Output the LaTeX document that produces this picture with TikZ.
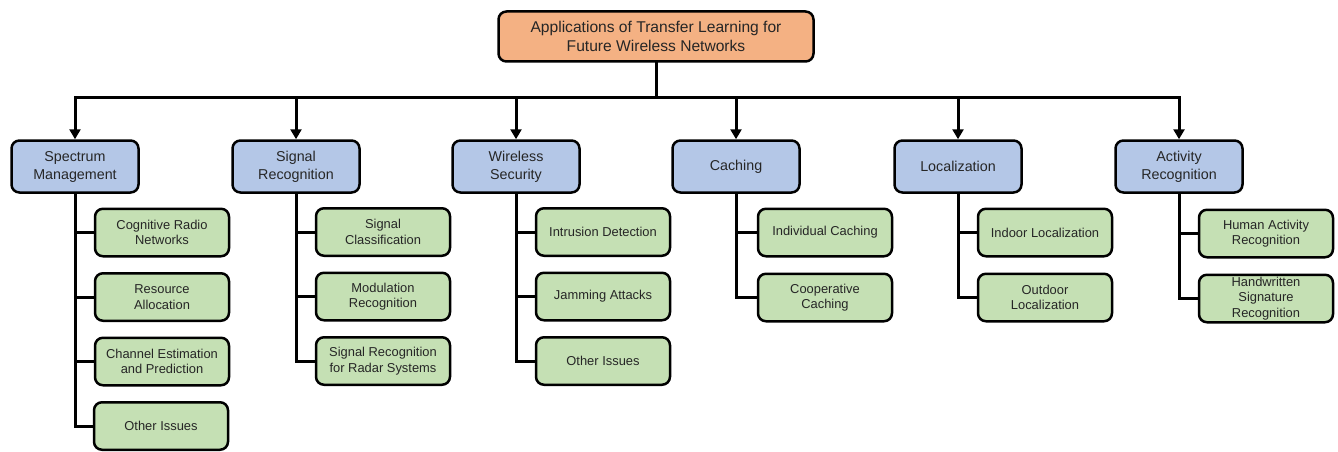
\documentclass[tikz,border=0pt]{standalone}
\usepackage{fontspec}
\setmainfont{Liberation Sans}
\usetikzlibrary{arrows.meta, positioning}

\definecolor{rootfill}{HTML}{F4B183}
\definecolor{catfill}{HTML}{B4C7E7}
\definecolor{subfill}{HTML}{C5E0B4}

\begin{document}
\begin{tikzpicture}[
  x=1pt, y=-1pt,
  rootbox/.style={draw=black, fill=rootfill, line width=2.5pt, rounded corners=8pt,
    minimum width=315pt, minimum height=50pt, align=center, inner sep=0pt,
    font=\fontsize{15.6}{19.5}\selectfont, text=black!85},
  catbox/.style={draw=black, fill=catfill, line width=2.5pt, rounded corners=8pt,
    minimum width=127pt, minimum height=52pt, align=center, inner sep=0pt,
    font=\fontsize{14.3}{18}\selectfont, text=black!85},
  subbox/.style={draw=black, fill=subfill, line width=2.5pt, rounded corners=8pt,
    minimum width=134pt, minimum height=47.5pt, align=center, inner sep=0pt,
    font=\fontsize{12.9}{15.5}\selectfont, text=black!85},
  edge/.style={draw=black, line width=3pt, line cap=rect},
  flow/.style={-{Triangle[width=11pt,length=10pt]}, draw=black, line width=3pt}
]
\useasboundingbox (0,0) rectangle (1338,452);

% Root
\node[rootbox] (root) at (656,36.5) {Applications of Transfer Learning for\\Future Wireless Networks};
\coordinate (bus) at (656,97);

% Categories
\node[catbox] (SM) at (75,166.5) {Spectrum\\Management};
\node[catbox] (SR) at (296,166.5) {Signal\\Recognition};
\node[catbox] (WS) at (516,166.5) {Wireless\\Security};
\node[catbox] (CA) at (736,166.5) {Caching};
\node[catbox] (LO) at (958,166.5) {Localization};
\node[catbox] (AR) at (1179,166.5) {Activity\\Recognition};

% Spectrum Management
\node[subbox] (CR) at (162,232.5) {Cognitive Radio\\Networks};
\node[subbox] (RA) at (162,297) {Resource\\Allocation};
\node[subbox] (CE) at (162,361.5) {Channel Estimation\\and Prediction};
\node[subbox] (OI1) at (161,426) {Other Issues};

% Signal Recognition
\node[subbox] (SC) at (383,232) {Signal\\Classification};
\node[subbox] (MR) at (383,296.5) {Modulation\\Recognition};
\node[subbox] (RS) at (383,361) {Signal Recognition\\for Radar Systems};

% Wireless Security
\node[subbox] (ID) at (603,232) {Intrusion Detection};
\node[subbox] (JA) at (603,296.5) {Jamming Attacks};
\node[subbox] (OI2) at (603,361) {Other Issues};

% Caching
\node[subbox] (IC) at (825,232.5) {Individual Caching};
\node[subbox] (CC) at (825,297.5) {Cooperative\\Caching};

% Localization
\node[subbox] (IL) at (1045,232.5) {Indoor Localization};
\node[subbox] (OL) at (1045,297.5) {Outdoor\\Localization};

% Activity Recognition
\node[subbox] (HA) at (1266,233.5) {Human Activity\\Recognition};
\node[subbox] (HS) at (1266,298.5) {Handwritten\\Signature\\Recognition};

% Bus
\draw[edge] (root.south) -- (bus);
\draw[edge] (SM |- bus) -- (AR |- bus);
\draw[flow] (SM |- bus) -- (SM.north);
\draw[flow] (SR |- bus) -- (SR.north);
\draw[flow] (WS |- bus) -- (WS.north);
\draw[flow] (CA |- bus) -- (CA.north);
\draw[flow] (LO |- bus) -- (LO.north);
\draw[flow] (AR |- bus) -- (AR.north);

% Trunks
\draw[edge] (SM.south) -- (SM.south |- OI1.west) -- (OI1.west);
\draw[edge] (SM.south |- CR.west) -- (CR.west);
\draw[edge] (SM.south |- RA.west) -- (RA.west);
\draw[edge] (SM.south |- CE.west) -- (CE.west);

\draw[edge] (SR.south) -- (SR.south |- RS.west) -- (RS.west);
\draw[edge] (SR.south |- SC.west) -- (SC.west);
\draw[edge] (SR.south |- MR.west) -- (MR.west);

\draw[edge] (WS.south) -- (WS.south |- OI2.west) -- (OI2.west);
\draw[edge] (WS.south |- ID.west) -- (ID.west);
\draw[edge] (WS.south |- JA.west) -- (JA.west);

\draw[edge] (CA.south) -- (CA.south |- CC.west) -- (CC.west);
\draw[edge] (CA.south |- IC.west) -- (IC.west);

\draw[edge] (LO.south) -- (LO.south |- OL.west) -- (OL.west);
\draw[edge] (LO.south |- IL.west) -- (IL.west);

\draw[edge] (AR.south) -- (AR.south |- HS.west) -- (HS.west);
\draw[edge] (AR.south |- HA.west) -- (HA.west);

\end{tikzpicture}
\end{document}
